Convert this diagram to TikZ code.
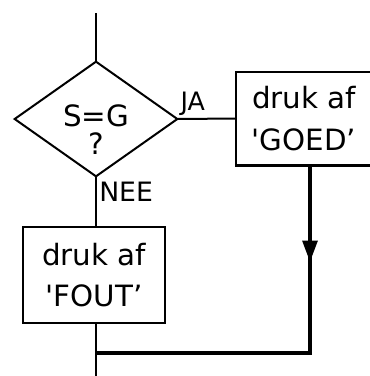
\documentclass[tikz,border=0pt]{standalone}
\usepackage{fontspec}
\setmainfont{DejaVu Sans}
\usetikzlibrary{arrows.meta,shapes.geometric}

\begin{document}
\begin{tikzpicture}[x=0.75pt,y=-0.75pt,
    flow/.style={line width=1.5pt},
    back/.style={line width=2.8pt},
    actbox/.style={draw,rectangle,line width=2pt,inner sep=0pt,outer sep=0pt,align=center,
      font=\fontsize{22}{31}\selectfont},
    lbl/.style={inner sep=1pt,font=\fontsize{20}{22}\selectfont}]
  \useasboundingbox (0,0) rectangle (370,376);
  % decision
  \coordinate (start) at (96,13);
  \node[draw,diamond,line width=1.5pt,inner sep=0pt,outer sep=0pt,
        minimum width=122pt,minimum height=86pt] (dec) at (96,119) {};
  \node[align=center,inner sep=0pt,font=\fontsize{22}{21}\selectfont] (dectxt) at (96,130) {S=G\\?};
  % the two actions
  \node[actbox,minimum width=102pt,minimum height=70pt] (goed) at (304,118.5)
    {druk af\\\textquotesingle GOED'};
  \node[actbox,minimum width=106.5pt,minimum height=72pt] (fout) at (94,275)
    {druk af\\\textquotesingle FOUT'};
  \coordinate (corner) at (310,353);
  \coordinate (mid) at (310,262);
  \coordinate (join) at (dec.south |- corner);
  \coordinate (stop) at (96,376);
  % connectors
  \draw[flow] (start) -- (dec.north);
  \draw[flow] (dec.east) -- (goed.west);
  \node[lbl,anchor=south west,inner sep=0pt,font=\fontsize{19}{20}\selectfont] (ja) at ([shift={(3,-3)}]dec.east) {JA};
  \draw[flow] (dec.south) -- (dec.south |- fout.north);
  \node[lbl,anchor=north west,inner sep=0pt] (nee) at ([shift={(3,5)}]dec.south) {NEE};
  \draw[flow] (stop |- fout.south) -- (stop);
  \draw[back] (goed.south -| corner) -- (corner) -- (join);
  \draw[back,-{Triangle[length=16pt,width=11pt]}] (goed.south -| corner) -- (mid);
\end{tikzpicture}
\end{document}
